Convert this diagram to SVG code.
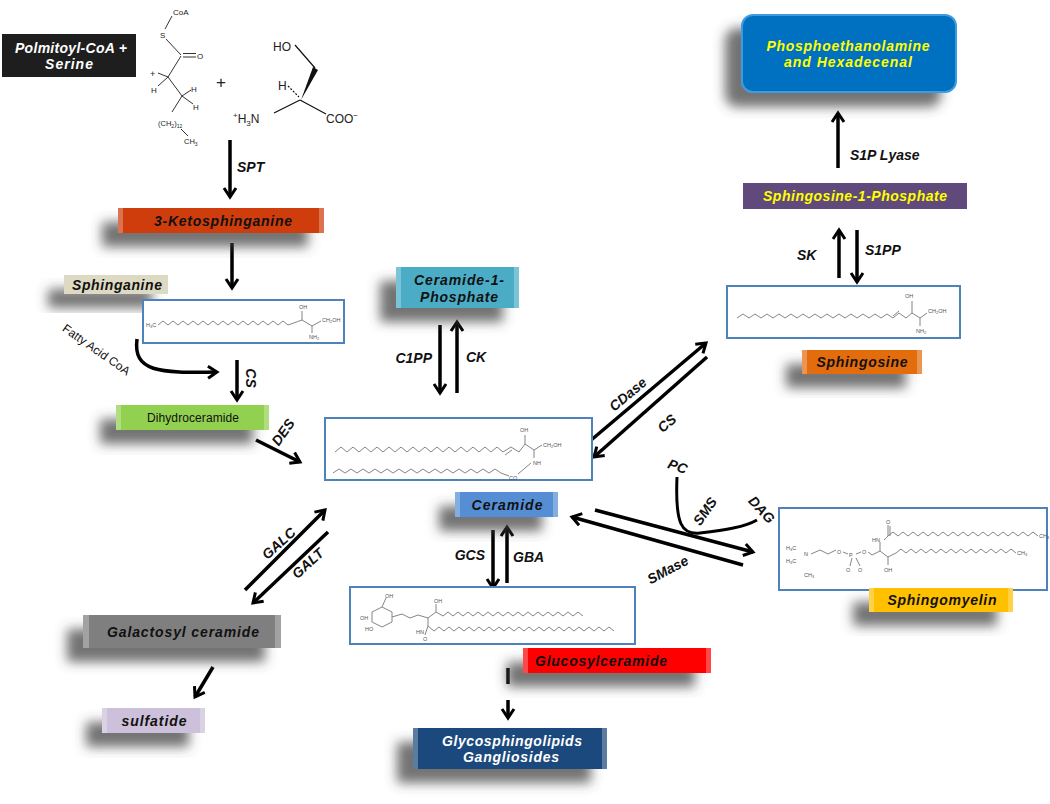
<svg xmlns="http://www.w3.org/2000/svg" width="1050" height="804" viewBox="0 0 1050 804">
<defs>
<style>
.lbl{font-family:"Liberation Sans",Arial,sans-serif;font-weight:bold;font-style:italic;font-size:14px;text-anchor:middle;fill:#111}
.edge{font-family:"Liberation Sans",Arial,sans-serif;font-weight:bold;font-style:italic;font-size:14px;fill:#111}
.reg{font-family:"Liberation Sans",Arial,sans-serif;font-size:12px;fill:#111}
.sbox{fill:#fff;stroke:#4f81bd;stroke-width:2}
.st{fill:none;stroke:#777;stroke-width:0.9}
.ct{font-family:"Liberation Sans",Arial,sans-serif;font-size:5.5px;fill:#555}
.ch{font-family:"Liberation Sans",Arial,sans-serif;fill:#222}
.bev{fill:#fff;opacity:0.28}
.conn{fill:none;stroke:#000;stroke-width:3.5;marker-end:url(#ah)}
.plain{fill:none;stroke:#000;stroke-width:3}
</style>
<marker id="ah" viewBox="0 0 16 16" refX="11" refY="8" markerWidth="16" markerHeight="16" markerUnits="userSpaceOnUse" orient="auto">
<path d="M2,2 L11,8 L2,14" fill="none" stroke="#000" stroke-width="3"/>
</marker>
<filter id="sh" x="-40%" y="-60%" width="180%" height="260%">
<feGaussianBlur in="SourceAlpha" stdDeviation="6"/>
<feOffset dx="-16" dy="14" result="b"/>
<feFlood flood-color="#444" flood-opacity="0.75"/>
<feComposite in2="b" operator="in"/>
<feMerge><feMergeNode/><feMergeNode in="SourceGraphic"/></feMerge>
</filter>
</defs>
<rect width="1050" height="804" fill="#fff"/>

<!-- starting substrates -->
<g id="palmitoyl-serine">
<rect x="2" y="34" width="134" height="43" fill="#1e1e1e"/>
<text class="lbl" x="71" y="53" style="fill:#fff" font-size="13" textLength="112">Polmitoyl-CoA +</text>
<text class="lbl" x="69" y="69" style="fill:#fff" font-size="13" textLength="48">Serine</text>
</g>
<g id="palmitoyl-structure" fill="none" stroke="#333" stroke-width="1">
<path d="M172,16 L165,29 M166,39 L181,55 M183,53.5 L196,53.5 M183,57 L196,57 M181,56 L168,77 M168,77 L158,73 M168,77 L158,86 M168,77 L182,96 M182,96 L191,90 M182,96 L193,104 M182,96 L172,112 M181,129 L188,136"/>
<text class="ch" x="173" y="15" font-size="8" stroke="none">CoA</text>
<text class="ch" x="160" y="38" font-size="8" stroke="none">S</text>
<text class="ch" x="197" y="59" font-size="8" stroke="none">O</text>
<text class="ch" x="150" y="77" font-size="9" stroke="none">+</text>
<text class="ch" x="151" y="93" font-size="8" stroke="none">H</text>
<text class="ch" x="191" y="92" font-size="8" stroke="none">H</text>
<text class="ch" x="193" y="110" font-size="8" stroke="none">H</text>
<text class="ch" x="158" y="126" font-size="7.5" stroke="none">(CH<tspan font-size="5" dy="2">2</tspan><tspan dy="-2">)</tspan><tspan font-size="5" dy="2">12</tspan></text>
<text class="ch" x="184" y="144" font-size="7.5" stroke="none">CH<tspan font-size="5" dy="2">3</tspan></text>
<text class="ch" x="216" y="88" font-size="17" stroke="none">+</text>
</g>
<g id="serine-structure" fill="none" stroke="#111" stroke-width="1.2">
<path d="M295,45 L315,68 M300,100 L274,113 M300,100 L326,114"/>
<path d="M288,86 L299,97" stroke-dasharray="2,1.5"/>
<polygon points="313,67 318,70 301,100" fill="#111" stroke="none"/>
<text class="ch" x="273" y="51" font-size="12" stroke="none">HO</text>
<text class="ch" x="278" y="90" font-size="12" stroke="none">H</text>
<text class="ch" x="233" y="123" font-size="12" stroke="none"><tspan font-size="8" dy="-5">+</tspan><tspan dy="5">H</tspan><tspan font-size="8" dy="3">3</tspan><tspan dy="-3">N</tspan></text>
<text class="ch" x="326" y="123" font-size="12" stroke="none">COO<tspan font-size="8" dy="-5">−</tspan></text>
</g>

<!-- connectors -->
<g id="connectors">
<path class="conn" d="M230,140 V197"/>
<path class="conn" d="M232,243 V288"/>
<path class="conn" d="M137,339 C133,372 158,373 217,372"/>
<path class="conn" d="M237,360 V400"/>
<path class="conn" d="M256,440 L300,462"/>
<path class="conn" d="M440,325 V393"/>
<path class="conn" d="M457,393 V322"/>
<path class="conn" d="M590,441 L706,343"/>
<path class="conn" d="M707,357 L594,457"/>
<path class="conn" d="M839,278 V230"/>
<path class="conn" d="M857,230 V282"/>
<path class="conn" d="M838,168 V113"/>
<path class="conn" d="M595,510 L753,552"/>
<path class="conn" d="M743,565 L572,517"/>
<path class="plain" d="M677,477 C675,525 682,535 700,533 C725,530 745,527 757,520"/>
<path class="conn" d="M493,530 V588"/>
<path class="conn" d="M507,583 V527"/>
<path class="conn" d="M245,590 L325,510"/>
<path class="conn" d="M328,532 L253,603"/>
<path class="conn" d="M213,667 L195,697"/>
<path class="conn" d="M508,668 V684 M508,700 V718"/>
</g>

<!-- connector labels -->
<g id="edge-labels">
<text class="edge" x="237" y="172">SPT</text>
<text class="reg" transform="translate(94,353) rotate(35)" text-anchor="middle">Fatty Acid CoA</text>
<text class="edge" transform="translate(246,378) rotate(90)" text-anchor="middle">CS</text>
<text class="edge" transform="translate(287,435) rotate(-55)" text-anchor="middle">DES</text>
<text class="edge" x="432" y="363" text-anchor="end">C1PP</text>
<text class="edge" x="466" y="362">CK</text>
<text class="edge" transform="translate(631,398) rotate(-40)" text-anchor="middle">CDase</text>
<text class="edge" transform="translate(670,427) rotate(-40)" text-anchor="middle">CS</text>
<text class="edge" x="797" y="260">SK</text>
<text class="edge" x="865" y="255">S1PP</text>
<text class="edge" x="850" y="160">S1P Lyase</text>
<text class="edge" transform="translate(676,471) rotate(20)" text-anchor="middle">PC</text>
<text class="edge" transform="translate(709,514) rotate(-55)" text-anchor="middle">SMS</text>
<text class="edge" transform="translate(758,513) rotate(47)" text-anchor="middle">DAG</text>
<text class="edge" transform="translate(670,574) rotate(-28)" text-anchor="middle">SMase</text>
<text class="edge" x="485" y="560" text-anchor="end">GCS</text>
<text class="edge" x="513" y="562">GBA</text>
<text class="edge" transform="translate(282,547) rotate(-42)" text-anchor="middle">GALC</text>
<text class="edge" transform="translate(311,567) rotate(-42)" text-anchor="middle">GALT</text>
</g>

<g id="ketosphinganine">
<rect x="118" y="208" width="206" height="25" fill="#cf3d0c" filter="url(#sh)"/>
<rect class="bev" x="118" y="208" width="5" height="25"/><rect class="bev" x="319" y="208" width="5" height="25"/>
<text class="lbl" x="223" y="225.5" textLength="138">3-Ketosphinganine</text>
</g>

<g id="sphinganine">
<rect x="64" y="275" width="104" height="19" fill="#ddd9c3" filter="url(#sh)"/>
<text class="lbl" x="117" y="289.5" textLength="90">Sphinganine</text>
<rect class="sbox" x="143" y="300" width="201" height="43"/>
<path class="st" d="M158,325 l5,-4 5,4 5,-4 5,4 5,-4 5,4 5,-4 5,4 5,-4 5,4 5,-4 5,4 5,-4 5,4 5,-4 5,4 5,-4 5,4 5,-4 5,4 5,-4 5,4 5,-4 5,4 5,-4 5,4 L302,320 L312,326 L321,321 M302,320 V311 M312,326 V333"/>
<text class="ct" x="146" y="327">H<tspan font-size="4" dy="1">3</tspan><tspan dy="-1">C</tspan></text>
<text class="ct" x="299" y="309">OH</text>
<text class="ct" x="322" y="322">CH<tspan font-size="4" dy="1">2</tspan><tspan dy="-1">OH</tspan></text>
<text class="ct" x="309" y="339">NH<tspan font-size="4" dy="1">2</tspan></text>
</g>

<g id="dihydroceramide">
<rect x="116" y="405" width="153" height="25" fill="#92d050" filter="url(#sh)"/>
<rect class="bev" x="116" y="405" width="5" height="25"/><rect class="bev" x="264" y="405" width="5" height="25"/>
<text class="reg" x="193" y="422" text-anchor="middle" font-size="11.5" textLength="92">Dihydroceramide</text>
</g>

<g id="ceramide-1-phosphate">
<rect x="396" y="267" width="123" height="41" fill="#4bacc6" filter="url(#sh)"/>
<rect class="bev" x="396" y="267" width="5" height="41"/><rect class="bev" x="514" y="267" width="5" height="41"/>
<text class="lbl" x="459" y="285" textLength="90">Ceramide-1-</text>
<text class="lbl" x="459" y="302" textLength="78">Phosphate</text>
</g>

<g id="ceramide">
<rect class="sbox" x="325" y="418" width="267" height="62"/>
<path class="st" d="M335,452 l6,-5 6,5 6,-5 6,5 6,-5 6,5 6,-5 6,5 6,-5 6,5 6,-5 6,5 6,-5 6,5 6,-5 6,5 6,-5 6,5 6,-5 6,5 6,-5 6,5 6,-5 6,5 6,-5 6,5 6,-5 6,5 L511,447 L519,452 L525,444 L534,450 L542,445 M505,455 L512,450 M525,444 V435 M534,450 V458 M531,463 L518,474"/>
<path class="st" d="M333,473 l6,-4 6,4 6,-4 6,4 6,-4 6,4 6,-4 6,4 6,-4 6,4 6,-4 6,4 6,-4 6,4 6,-4 6,4 6,-4 6,4 6,-4 6,4 6,-4 6,4 6,-4 6,4 6,-4 6,4 6,-4 6,4 L509,476"/>
<text class="ct" x="520" y="432">OH</text>
<text class="ct" x="543" y="447">CH<tspan font-size="4" dy="1">2</tspan><tspan dy="-1">OH</tspan></text>
<text class="ct" x="533" y="465">NH</text>
<text class="ct" x="509" y="480">CO</text>
<rect x="455" y="492" width="103" height="25" fill="#558ed5" filter="url(#sh)"/>
<rect class="bev" x="455" y="492" width="5" height="25"/><rect class="bev" x="553" y="492" width="5" height="25"/>
<text class="lbl" x="507" y="509.5" textLength="71">Ceramide</text>
</g>

<g id="phosphoethanolamine">
<rect x="742" y="15" width="214" height="77" rx="11" fill="#0070c0" stroke="#3d9be0" stroke-width="2" filter="url(#sh)"/>
<text class="lbl" x="848" y="51" style="fill:#ffff00" textLength="163">Phosphoethanolamine</text>
<text class="lbl" x="848" y="67" style="fill:#ffff00" textLength="128">and Hexadecenal</text>
</g>

<g id="sphingosine-1-phosphate">
<rect x="743" y="183" width="224" height="26" fill="#604a7b"/>
<text class="lbl" x="855" y="201" style="fill:#ffff00" textLength="184">Sphingosine-1-Phosphate</text>
</g>

<g id="sphingosine">
<rect class="sbox" x="727" y="286" width="233" height="52"/>
<path class="st" d="M737,318 l6,-4 6,4 6,-4 6,4 6,-4 6,4 6,-4 6,4 6,-4 6,4 6,-4 6,4 6,-4 6,4 6,-4 6,4 6,-4 6,4 6,-4 6,4 6,-4 6,4 6,-4 6,4 6,-4 6,4 L899,313 L906,318 L912,313 L920,318 L927,313 M893,316 L899,311 M912,313 V301 M920,318 V326"/>
<text class="ct" x="905" y="298">OH</text>
<text class="ct" x="928" y="313">CH<tspan font-size="4" dy="1">2</tspan><tspan dy="-1">OH</tspan></text>
<text class="ct" x="916" y="333">NH<tspan font-size="4" dy="1">2</tspan></text>
<rect x="802" y="350" width="120" height="24" fill="#e36c09" filter="url(#sh)"/>
<rect class="bev" x="802" y="350" width="5" height="24"/><rect class="bev" x="917" y="350" width="5" height="24"/>
<text class="lbl" x="862" y="367" textLength="91">Sphingosine</text>
</g>

<g id="sphingomyelin">
<rect class="sbox" x="779" y="508" width="268" height="82"/>
<path class="st" d="M811,554 L820,550 L828,554 L836,550 M843,552 L848,554 M856,554 L861,552 M868,552 L872,555 L880,551 L888,557 L896,553 M880,551 L880,542 M884,540 L888,536 L888,525 M890,536 V526 M888,557 V565 M852,558 L850,566 M856,558 L860,566"/>
<path class="st" d="M888,536 l5,-4 5,4 5,-4 5,4 5,-4 5,4 5,-4 5,4 5,-4 5,4 5,-4 5,4 5,-4 5,4 5,-4 5,4 5,-4 5,4 5,-4 5,4 5,-4 5,4 5,-4 5,4 5,-4 5,4 5,-4 5,4 5,-4 5,4"/>
<path class="st" d="M896,553 l5,-4 5,4 5,-4 5,4 5,-4 5,4 5,-4 5,4 5,-4 5,4 5,-4 5,4 5,-4 5,4 5,-4 5,4 5,-4 5,4 5,-4 5,4 5,-4 5,4 5,-4 5,4"/>
<text class="ct" x="786" y="550">H<tspan font-size="4" dy="1">3</tspan><tspan dy="-1">C</tspan></text>
<text class="ct" x="786" y="563">H<tspan font-size="4" dy="1">3</tspan><tspan dy="-1">C</tspan></text>
<text class="ct" x="804" y="556">N</text>
<text class="ct" x="804" y="577">CH<tspan font-size="4" dy="1">3</tspan></text>
<text class="ct" x="837" y="554">O</text>
<text class="ct" x="849" y="557">P</text>
<text class="ct" x="862" y="554">O</text>
<text class="ct" x="846" y="572">O</text>
<text class="ct" x="858" y="572">O</text>
<text class="ct" x="872" y="542">HN</text>
<text class="ct" x="886" y="524">O</text>
<text class="ct" x="1039" y="538">CH<tspan font-size="4" dy="1">3</tspan></text>
<text class="ct" x="1017" y="555">CH<tspan font-size="4" dy="1">3</tspan></text>
<text class="ct" x="884" y="572">OH</text>
<rect x="869" y="588" width="144" height="24" fill="#ffc000" filter="url(#sh)"/>
<rect class="bev" x="869" y="588" width="5" height="24"/><rect class="bev" x="1008" y="588" width="5" height="24"/>
<text class="lbl" x="942" y="605" textLength="109">Sphingomyelin</text>
</g>

<g id="glucosylceramide">
<rect class="sbox" x="350" y="587" width="285" height="57"/>
<path class="st" d="M372,612 L382,607 L392,612 L392,622 L382,627 L372,622 Z M382,607 L386,598 M392,617 L402,614 L410,618 L418,615 L428,618 L436,612 L443,616 M436,612 V604 M428,618 V626 L434,631 M428,626 L425,635"/>
<path class="st" d="M443,616 l5,-4 5,4 5,-4 5,4 5,-4 5,4 5,-4 5,4 5,-4 5,4 5,-4 5,4 5,-4 5,4 5,-4 5,4 5,-4 5,4 5,-4 5,4 5,-4 5,4 5,-4 5,4 5,-4 5,4 5,-4 5,4"/>
<path class="st" d="M434,631 l5,-4 5,4 5,-4 5,4 5,-4 5,4 5,-4 5,4 5,-4 5,4 5,-4 5,4 5,-4 5,4 5,-4 5,4 5,-4 5,4 5,-4 5,4 5,-4 5,4 5,-4 5,4 5,-4 5,4 5,-4 5,4 5,-4 5,4 5,-4 5,4 5,-4 5,4 5,-4 5,4"/>
<text class="ct" x="385" y="598">OH</text>
<text class="ct" x="360" y="620">OH</text>
<text class="ct" x="365" y="631">HO</text>
<text class="ct" x="434" y="603">OH</text>
<text class="ct" x="416" y="634">HN</text>
<text class="ct" x="423" y="641">O</text>
<rect x="523" y="648" width="188" height="25" fill="#ff0000" filter="url(#sh)"/>
<rect class="bev" x="523" y="648" width="5" height="25"/><rect class="bev" x="706" y="648" width="5" height="25"/>
<text class="lbl" x="601" y="665.5" textLength="132">Glucosylceramide</text>
</g>

<g id="glycosphingolipids">
<rect x="413" y="728" width="194" height="41" fill="#1f497d" filter="url(#sh)"/>
<rect class="bev" x="413" y="728" width="5" height="41"/><rect class="bev" x="602" y="728" width="5" height="41"/>
<text class="lbl" x="512" y="746" style="fill:#fff" textLength="140">Glycosphingolipids</text>
<text class="lbl" x="511" y="762" style="fill:#fff" textLength="96">Gangliosides</text>
</g>

<g id="galactosylceramide">
<rect x="83" y="615" width="198" height="33" fill="#7f7f7f" filter="url(#sh)"/>
<rect class="bev" x="83" y="615" width="6" height="33"/><rect class="bev" x="275" y="615" width="6" height="33"/>
<text class="lbl" x="183" y="636.5" textLength="152">Galactosyl ceramide</text>
</g>

<g id="sulfatide">
<rect x="102" y="708" width="103" height="25" fill="#ccc0da" filter="url(#sh)"/>
<rect class="bev" x="102" y="708" width="5" height="25"/><rect class="bev" x="200" y="708" width="5" height="25"/>
<text class="lbl" x="154" y="725.5" textLength="65">sulfatide</text>
</g>
</svg>
